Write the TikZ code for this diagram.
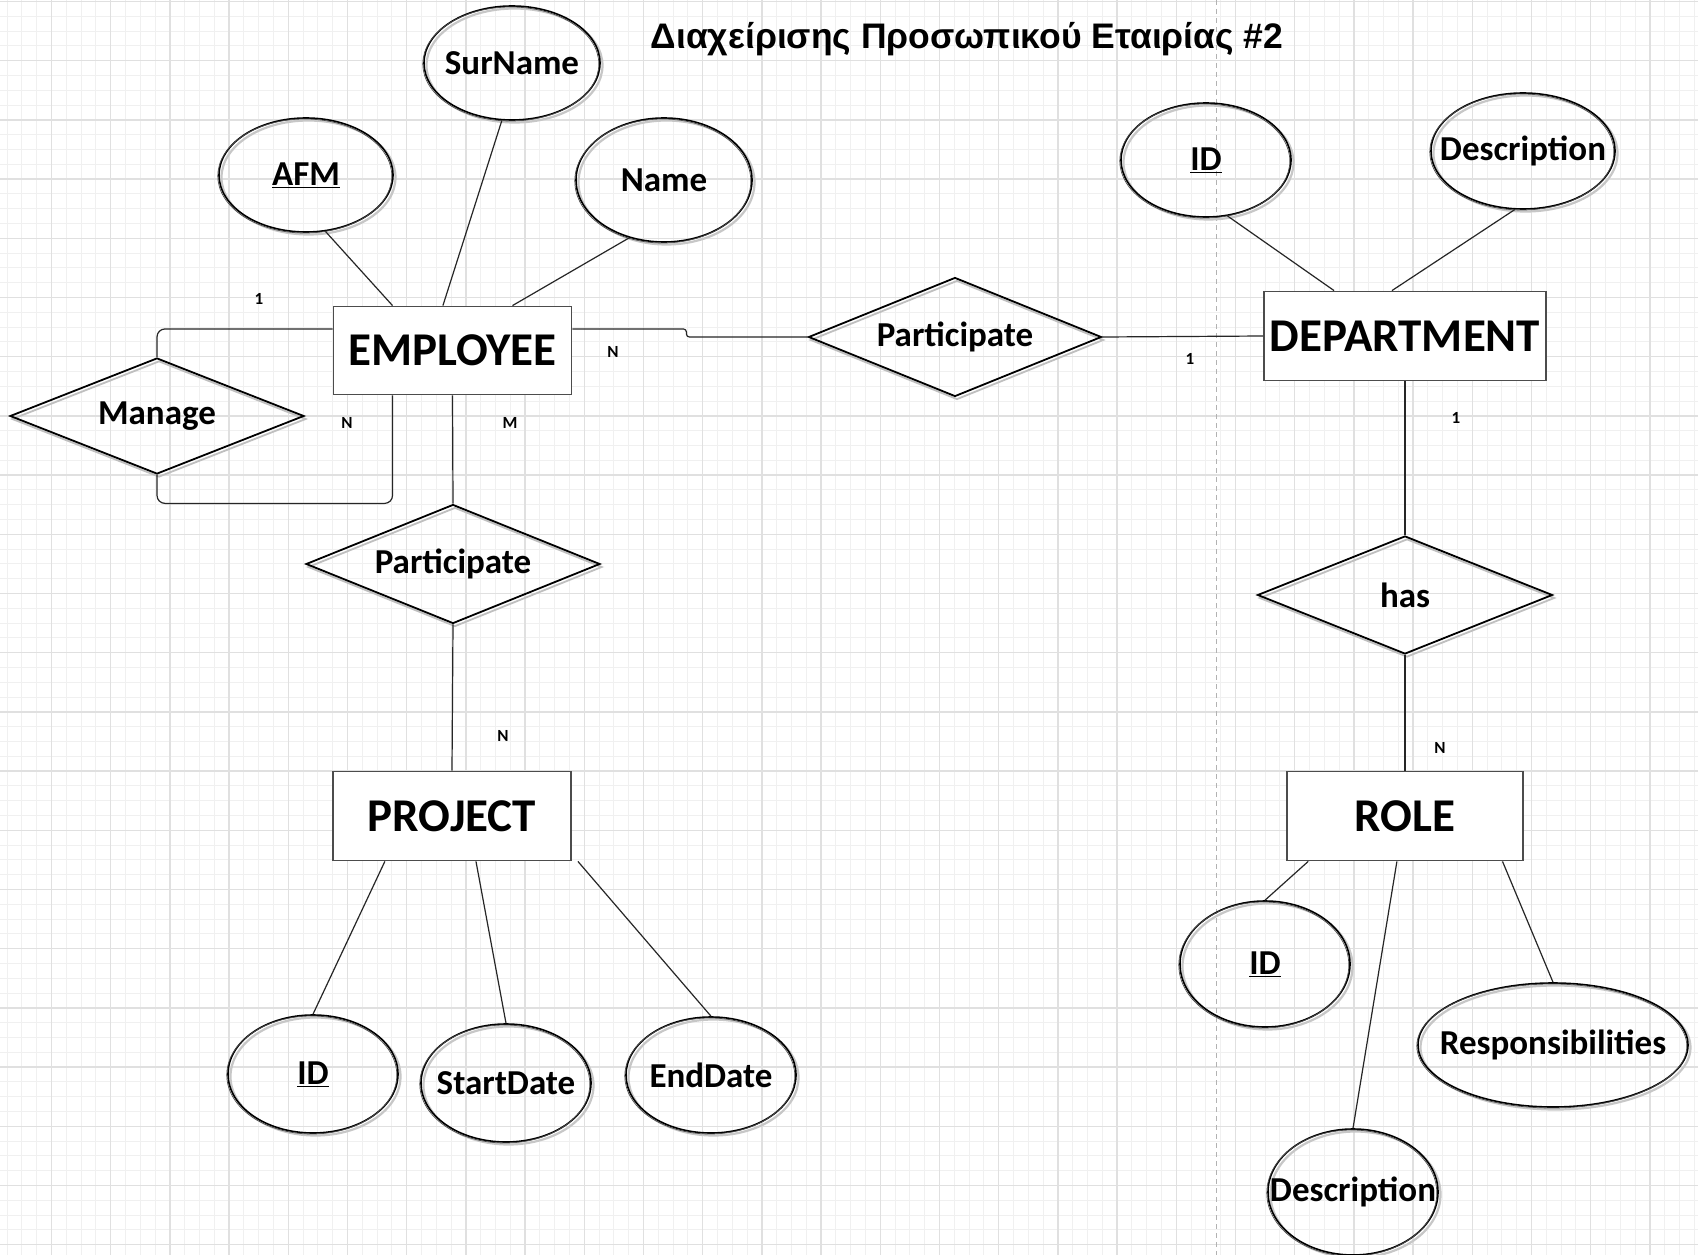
\documentclass[tikz,border=0pt]{standalone}
\usepackage{fontspec}
\setmainfont{Carlito}
\newfontfamily\titlefont{Liberation Sans}
\usetikzlibrary{shapes.geometric,calc}
\newcommand\ztext[1]{\makebox[0pt]{#1}}
\definecolor{gminor}{HTML}{F0F0F0}
\definecolor{gmajor}{HTML}{E0E0E0}
\begin{document}
\begin{tikzpicture}[x=1pt,y=-1pt,
  entity/.style={rectangle, draw=black!70, line width=1.8pt, fill=white, inner sep=0pt,
    font=\fontsize{47}{52}\selectfont\bfseries},
  attr/.style={ellipse, draw=black, line width=1.6pt, inner sep=0pt,
    font=\fontsize{35}{38}\selectfont\bfseries,
    preaction={draw=black!22, line width=2.2pt, transform canvas={shift={(2.5,2.5)}}},
    postaction={draw=black!70, line width=0.7pt, transform canvas={shift={(-1.2,1)}}}},
  rel/.style={diamond, draw=black, line width=1.8pt, inner sep=0pt, aspect=2.5,
    font=\fontsize{35}{38}\selectfont\bfseries,
    preaction={draw=black!25, line width=1.8pt, transform canvas={shift={(2,3)}}}},
  card/.style={font=\fontsize{17}{19}\selectfont\bfseries, inner sep=0pt},
  conn/.style={draw=black!85, line width=1.2pt},
  gminorline/.style={draw=gminor, line width=0.9pt},
  gmajorline/.style={draw=gmajor, line width=1.3pt}]
\useasboundingbox (0,0) rectangle (1698,1255);
\fill[white] (0,0) rectangle (1698,1255);
% grid
\foreach \i in {0,...,114} {\draw[gminorline] ({7.1+14.8*\i},0) -- ({7.1+14.8*\i},1255);}
\foreach \i in {0,...,84} {\draw[gminorline] (0,{1.5+14.8*\i}) -- (1698,{1.5+14.8*\i});}
\foreach \i in {0,...,28} {\draw[gmajorline] ({51.5+59.2*\i},0) -- ({51.5+59.2*\i},1255);}
\foreach \i in {0,...,21} {\draw[gmajorline] (0,{1.5+59.2*\i}) -- (1698,{1.5+59.2*\i});}
\draw[draw=black!30, line width=0.9pt, dash pattern=on 5pt off 4pt] (1216,0) -- (1216,1255);

% title
\node[font=\titlefont\bfseries\fontsize{35.5}{40}\selectfont, inner sep=0pt] (title) at (967,39) {Διαχείρισης Προσωπικού Εταιρίας \#2};

% entities
\node[entity, minimum width=238, minimum height=88] (emp) at (452.5,350.5) {EMPLOYEE};
\node[entity, minimum width=238, minimum height=89] (proj) at (452,816) {PROJECT};
\node[entity, minimum width=282, minimum height=89] (dept) at (1405,336) {DEPARTMENT};
\node[entity, minimum width=236, minimum height=89] (role) at (1405,816) {ROLE};

% relationships
\node[rel, minimum width=294, minimum height=116] (manage) at (157,416) {\ztext{Manage}};
\node[rel, minimum width=294, minimum height=119] (partp) at (453,564) {\ztext{Participate}};
\node[rel, minimum width=293, minimum height=119] (partd) at (955,337) {\ztext{Participate}};
\node[rel, minimum width=295, minimum height=118] (has) at (1405,595) {\ztext{has}};

% attributes
\node[attr, minimum width=174, minimum height=114] (afm) at (306,175) {\ztext{\underline{AFM}}};
\node[attr, minimum width=176, minimum height=114] (sur) at (512,63) {\ztext{SurName}};
\node[attr, minimum width=176, minimum height=124] (name) at (664,180) {\ztext{Name}};
\node[attr, minimum width=170, minimum height=114] (did) at (1206,160) {\ztext{\underline{ID}}};
\node[attr, minimum width=184, minimum height=116] (ddesc) at (1523,151) {\ztext{Description}};
\node[attr, minimum width=170, minimum height=118] (pid) at (313,1074) {\ztext{\underline{ID}}};
\node[attr, minimum width=170, minimum height=118] (pstart) at (506,1083) {\ztext{StartDate}};
\node[attr, minimum width=170, minimum height=116] (pend) at (711,1075) {\ztext{EndDate}};
\node[attr, minimum width=170, minimum height=126] (rid) at (1265,964) {\ztext{\underline{ID}}};
\node[attr, minimum width=270, minimum height=124] (rresp) at (1553,1045) {\ztext{Responsibilities}};
\node[attr, minimum width=170, minimum height=126] (rdesc) at (1353,1192) {\ztext{Description}};

% helper coordinates
\coordinate (eR) at ($(emp.north east)!0.26!(emp.south east)$);
\coordinate (eL) at ($(emp.north west)!0.26!(emp.south west)$);
\coordinate (eB) at ($(emp.south west)!0.25!(emp.south east)$);
\coordinate (mB) at ($(eB)+(0,108)$);

% connectors
\draw[conn, rounded corners=8pt] (eL) -| (manage.north);
\draw[conn, rounded corners=8pt] (manage.south) |- (mB) -- (eB);
\draw[conn, rounded corners=3pt] (eR) -- ++(114,0) |- (partd.west);
\draw[conn] (partd.east) -- (dept.west);
\draw[conn] (emp.south) -- (partp.north);
\draw[conn] (partp.south) -- (proj.north);
\draw[conn] (dept.south) -- (has.north);
\draw[conn] (has.south) -- (role.north);

\draw[conn] (afm.-71) -- ($(emp.north west)!0.25!(emp.north east)$);
\draw[conn] (sur.-100) -- ($(emp.north west)!0.46!(emp.north east)$);
\draw[conn] (name.-121) -- ($(emp.north west)!0.75!(emp.north east)$);
\draw[conn] (did.-69) -- ($(dept.north west)!0.25!(dept.north east)$);
\draw[conn] (ddesc.-98) -- ($(dept.north west)!0.454!(dept.north east)$);
\draw[conn] (pid.north) -- ($(proj.south west)!0.22!(proj.south east)$);
\draw[conn] (pstart.north) -- ($(proj.south west)!0.6!(proj.south east)$);
\draw[conn] (pend.north) -- ($(proj.south east)+(6,0)$);
\draw[conn] (rid.north) -- ($(role.south west)!0.093!(role.south east)$);
\draw[conn] (rdesc.north) -- ($(role.south west)!0.466!(role.south east)$);
\draw[conn] (rresp.north) -- ($(role.south west)!0.91!(role.south east)$);

% cardinalities
\node[card] (c1) at (259,299) {1};
\node[card] (c2) at (613,352) {N};
\node[card] (c3) at (347,423) {N};
\node[card] (c4) at (510,423) {M};
\node[card] (c5) at (1190,359) {1};
\node[card] (c6) at (1456,418) {1};
\node[card] (c7) at (503,736) {N};
\node[card] (c8) at (1440,748) {N};
\end{tikzpicture}
\end{document}
